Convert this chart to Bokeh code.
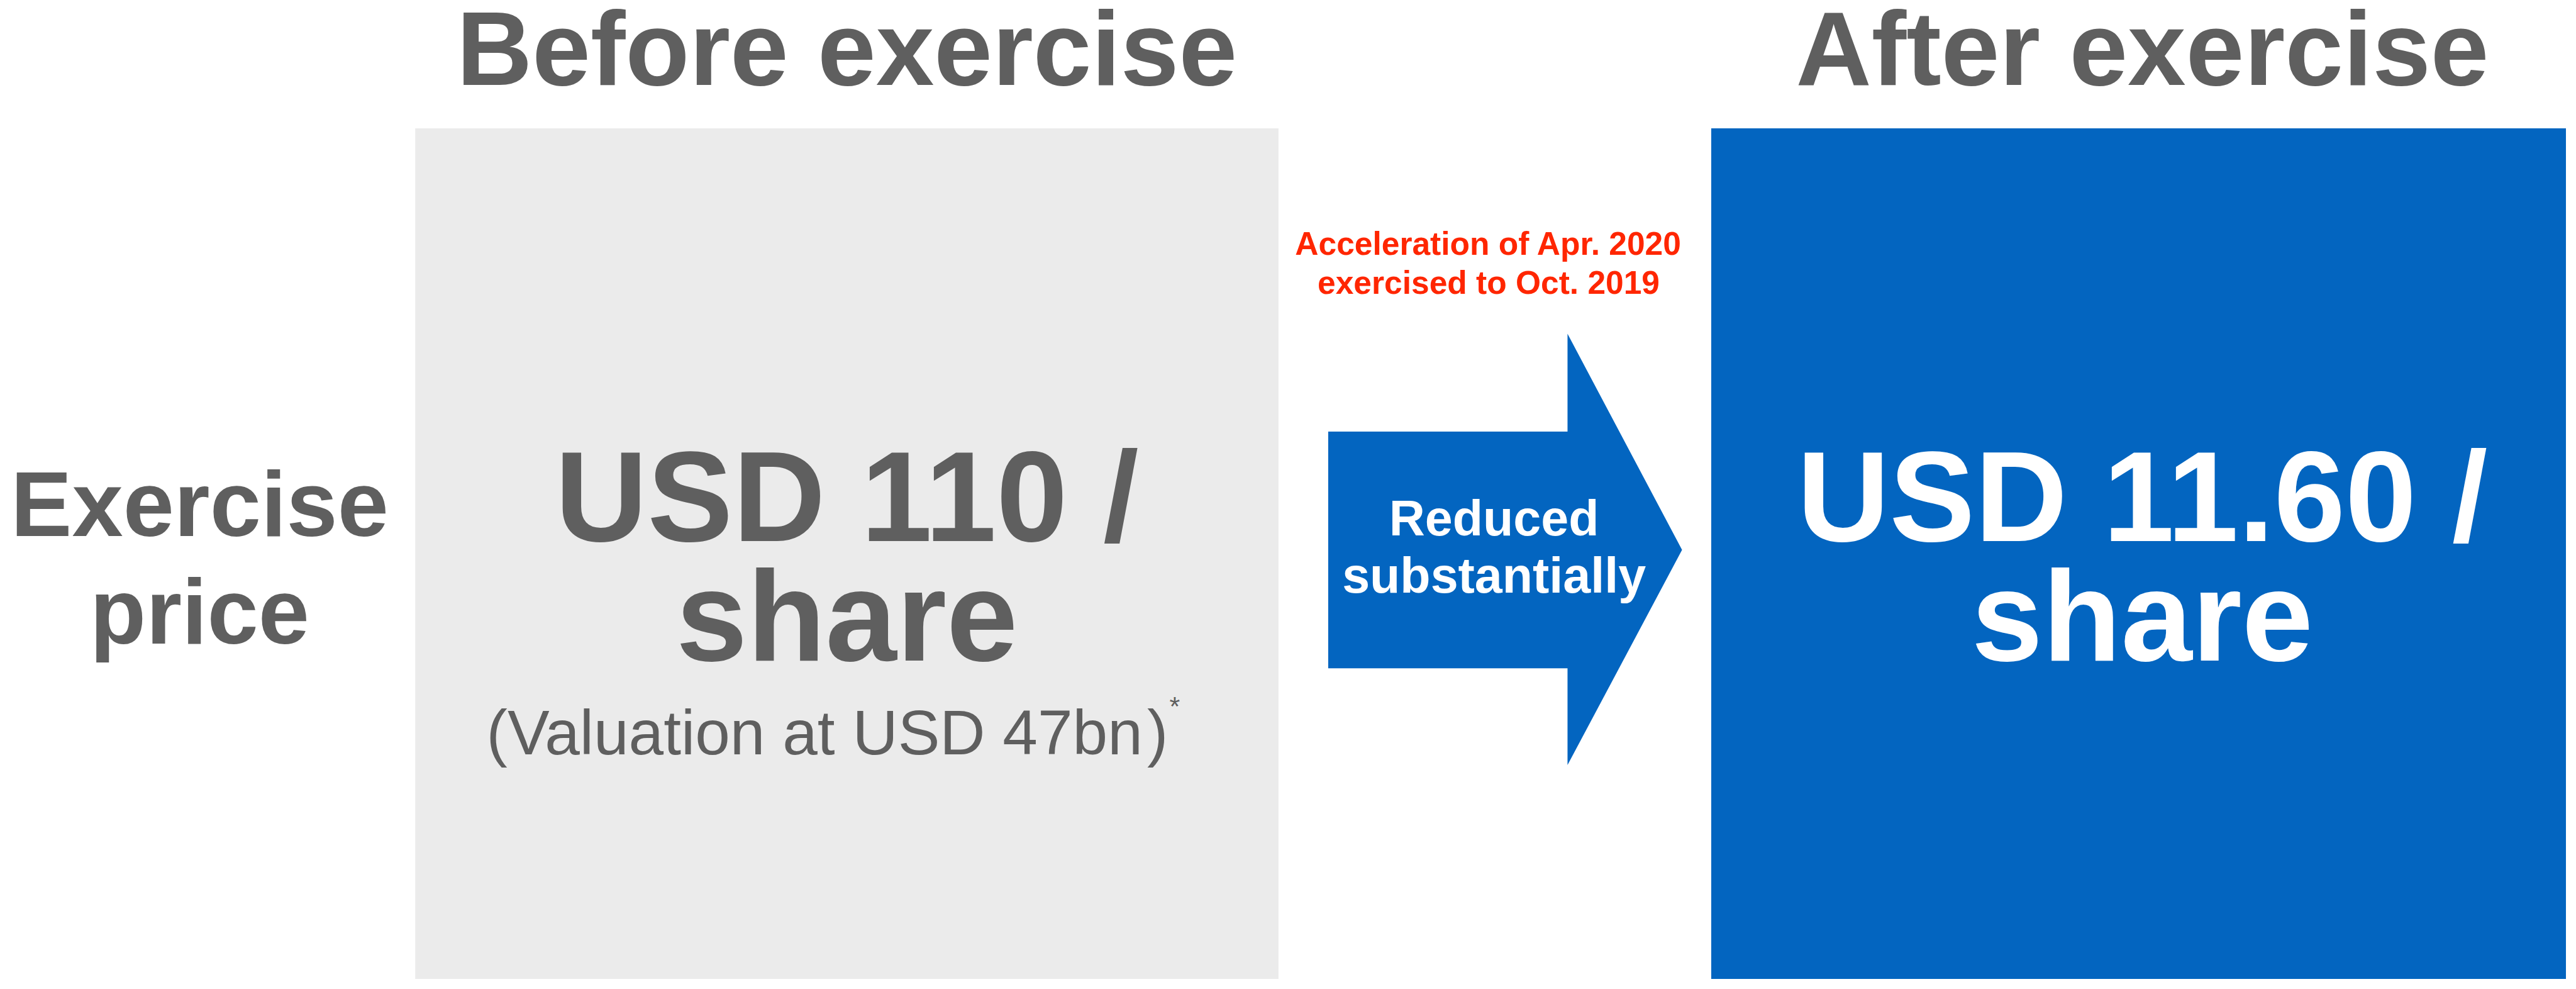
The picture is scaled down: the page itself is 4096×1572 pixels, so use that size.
from bokeh.plotting import figure
from bokeh.models import Range1d, ColumnDataSource
from bokeh.embed import file_html
from bokeh.resources import INLINE
from bokeh.core.properties import value

# ---------------- data ----------------
stages = ["Before exercise", "After exercise"]
price_line1 = ["USD 110 /", "USD 11.60 /"]
price_line2 = ["share", "share"]
row_label = ["Exercise", "price"]
valuation_note = "(Valuation at USD 47bn)"
footnote_mark = ["*"]
arrow_label = ["Reduced", "substantially"]
acceleration_note = ["Acceleration of Apr. 2020", "exercised to Oct. 2019"]

# ---------------- layout (reference pixel units) ----------------
S = 0.859                      # scale of output vs reference
W, H = 4080, 1556              # figure size in screen px
XMAX, YMAX = W / S, H / S
SHIFT = 0.37                   # baseline correction, in em

box_left = [768, 3167]
box_right = [2366, 4763]
box_top = 237
box_bottom = 1828
box_fill = ["#EBEBEB", "#0365C0"]
price_color = ["#5F5F5F", "#FFFFFF"]
GRAY = "#5F5F5F"
RED = "#FF2600"
BLUE = "#0365C0"
FONT = value("Liberation Sans")


def px(v):
    return f"{v * S:.1f}px"


def base(y, size):
    return y - SHIFT * size


p = figure(width=W, height=H, output_backend="svg", toolbar_location=None,
           x_range=Range1d(0, XMAX), y_range=Range1d(YMAX, 0),
           x_axis_type=None, y_axis_type=None, min_border=0,
           background_fill_color="white", border_fill_color="white")
p.outline_line_color = None
p.xgrid.visible = False
p.ygrid.visible = False

# boxes
centers = [(l + r) / 2 for l, r in zip(box_left, box_right)]
p.quad(left=box_left, right=box_right, top=[box_top] * 2, bottom=[box_bottom] * 2,
       fill_color=box_fill, line_color=None)

# stage titles
p.text(x=centers, y=[base(161, 194)] * 2, text=stages, text_font=FONT, text_font_style="bold",
       text_font_size=px(194), text_color=GRAY, text_align="center",
       text_baseline="alphabetic")

# price texts
src_price = ColumnDataSource(dict(x=centers, l1=price_line1, l2=price_line2, c=price_color))
p.text(x="x", y=base(1006, 237), text="l1", source=src_price, text_font=FONT,
       text_font_style="bold", text_font_size=px(237), text_color="c", text_align="center",
       text_baseline="alphabetic")
p.text(x="x", y=base(1227, 237), text="l2", source=src_price, text_font=FONT,
       text_font_style="bold", text_font_size=px(237), text_color="c", text_align="center",
       text_baseline="alphabetic")

# valuation note, drawn in three pieces: "(", body, ")"
V_PX = 100                     # screen px
V_FULL = V_PX / S              # same size in reference units
PAREN_ADV = 0.333 * V_FULL     # advance width of a parenthesis
BODY_ADV = 10.172 * V_FULL     # advance width of the body text
X0 = 900
VY = base(1398, V_FULL)
pieces = [valuation_note[:1], valuation_note[1:-1], valuation_note[-1:]]
starts = [X0, X0 + PAREN_ADV, X0 + PAREN_ADV + BODY_ADV]
for t, x in zip(pieces, starts):
    p.text(x=[x], y=[VY], text=[t], text_font=FONT, text_font_style="normal",
           text_font_size=f"{V_PX}px", text_color=GRAY, text_align="left",
           text_baseline="alphabetic")
p.text(x=[2174], y=[base(1324, 50)], text=footnote_mark, text_font=FONT, text_font_size="43px",
       text_color=GRAY, text_align="center", text_baseline="alphabetic")

# row label
p.text(x=[369, 369], y=[base(995, 170), base(1195, 170)], text=row_label, text_font=FONT,
       text_font_style="bold", text_font_size=px(170), text_color=GRAY, text_align="center",
       text_baseline="alphabetic")

# arrow
ax = [2458, 2901, 2901, 3113, 2901, 2901, 2458]
ay = [798, 798, 617, 1017, 1415, 1236, 1236]
p.patch(x=ax, y=ay, fill_color=BLUE, line_color=None)
p.text(x=[2765, 2765], y=[base(992, 92), base(1098, 92)], text=arrow_label, text_font=FONT,
       text_font_style="bold", text_font_size=px(92), text_color="white", text_align="center",
       text_baseline="alphabetic")

# acceleration note
p.text(x=[2755, 2755], y=[base(472, 60), base(544, 60)], text=acceleration_note, text_font=FONT,
       text_font_style="bold", text_font_size=px(60), text_color=RED, text_align="center",
       text_baseline="alphabetic")

open("out.html", "w").write(file_html(p, INLINE))
